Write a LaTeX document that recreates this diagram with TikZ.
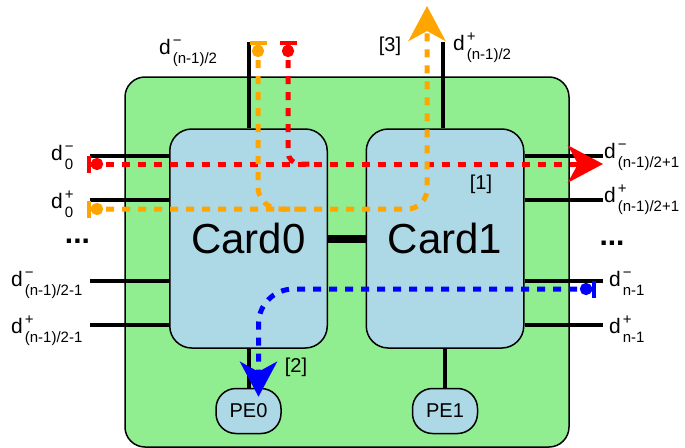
\documentclass[tikz,border=0pt]{standalone}
\usepackage{fontspec}
\setmainfont{Liberation Sans}
\usetikzlibrary{arrows.meta,positioning}

\definecolor{boardgreen}{RGB}{144,238,144}
\definecolor{cardblue}{RGB}{173,216,230}
\definecolor{pathorange}{RGB}{255,165,0}

\newcommand{\subsz}{\fontsize{15}{15}\selectfont}
\newcommand{\dport}[2]{d\kern2pt\rlap{\raisebox{9pt}{\subsz #1}}\raisebox{-9.5pt}{\subsz #2}}

\begin{document}
\begin{tikzpicture}[x=1pt, y=-1pt,
    board/.style={draw, line width=1.5pt, fill=boardgreen, rounded corners=20pt,
        minimum width=444pt, minimum height=370pt},
    card/.style={draw, line width=1.5pt, fill=cardblue, rounded corners=22pt,
        minimum width=157.5pt, minimum height=219pt, font=\fontsize{42}{42}\selectfont},
    pe/.style={draw, line width=1.5pt, fill=cardblue, rounded corners=20pt,
        minimum width=65pt, minimum height=45pt, font=\fontsize{20}{20}\selectfont},
    port/.style={line width=4pt},
    dlab/.style={inner sep=0pt, anchor=base west, font=\fontsize{21}{21}\selectfont},
    tag/.style={inner sep=0pt, font=\fontsize{20}{20}\selectfont},
    dots/.style={inner sep=0pt, anchor=base, font=\fontsize{30}{30}\selectfont\bfseries},
    flow/.style={line width=5pt, dash pattern=on 8pt off 8pt},
    src/.style={{Bar[width=17pt,line width=4pt,sep=-3pt]Circle[length=12pt,width=12pt]}-},
    srcdst/.style={{Bar[width=17pt,line width=4pt,sep=-3pt]Circle[length=12pt,width=12pt]}-{Stealth[length=35pt,width=37pt,inset=10pt]}},
]
\useasboundingbox (0,0) rectangle (685,447);

    % Board
    \node[board] (board) at (347,262) {};

    % Port ends
    \coordinate (l0m) at (90,156);
    \coordinate (l0p) at (90,200);
    \coordinate (lhm) at (90,281);
    \coordinate (lhp) at (90,325);
    \coordinate (r0m) at (603,156);
    \coordinate (r0p) at (603,200);
    \coordinate (rnm) at (603,281);
    \coordinate (rnp) at (603,325);
    \coordinate (t0) at (248.5,42);
    \coordinate (t1) at (443,42);

    % Cards
    \node[card] (card0) at (248.5,238.5) {Card0};
    \node[card, right=37.5pt of card0] (card1) {Card1};
    \node[pe, below=39pt of card0] (pe0) {PE0};
    \node[pe, below=39pt of card1] (pe1) {PE1};

    % Links
    \draw[line width=8pt] (card0.east) -- (card1.west);
    \draw[port] (l0m) -- (l0m -| card0.west);
    \draw[port] (l0p) -- (l0p -| card0.west);
    \draw[port] (lhm) -- (lhm -| card0.west);
    \draw[port] (lhp) -- (lhp -| card0.west);
    \draw[port] (r0m) -- (r0m -| card1.east);
    \draw[port] (r0p) -- (r0p -| card1.east);
    \draw[port] (rnm) -- (rnm -| card1.east);
    \draw[port] (rnp) -- (rnp -| card1.east);
    \draw[port] (t0) -- (t0 |- card0.north);
    \draw[port] (t1) -- (t1 |- card1.north);
    \draw[port] (card0.south) -- (pe0.north);
    \draw[port] (card1.south) -- (pe1.north);

    % Port labels
    \node[dlab] (lab0m) at (51,160) {\dport{−}{0}};
    \node[dlab] (lab0p) at (51,208) {\dport{+}{0}};
    \node[dlab] (labhm) at (11,286) {\dport{−}{(n-1)/2-1}};
    \node[dlab] (labhp) at (11,333) {\dport{+}{(n-1)/2-1}};
    \node[dlab] (labr0m) at (604,158) {\dport{−}{(n-1)/2+1}};
    \node[dlab] (labr0p) at (604,202) {\dport{+}{(n-1)/2+1}};
    \node[dlab] (labrnm) at (609,286) {\dport{−}{n-1}};
    \node[dlab] (labrnp) at (609,333) {\dport{+}{n-1}};
    \node[dlab] (labt0) at (159,54) {\dport{−}{(n-1)/2}};
    \node[dlab] (labt1) at (453,50) {\dport{+}{(n-1)/2}};
    \node[dots] (dotsl) at (77.5,243) {...};
    \node[dots] (dotsr) at (612,245) {...};

    % Flow [1]
    \coordinate (f1a) at (90,164);
    \coordinate (f1b) at (603,164);
    \coordinate (f1c) at (288,44);
    \coordinate (f1d) at (315,164);
    \draw[flow, red, srcdst] (f1a) -- (f1b);
    \draw[flow, red, src, rounded corners=12pt] (f1c) |- (f1d);
    \node[tag] (tag1) at (481,184) {[1]};

    % Flow [3]
    \coordinate (f3a) at (90,209);
    \coordinate (f3b) at (427,6);
    \coordinate (f3c) at (258,44);
    \coordinate (f3d) at (300,209);
    \draw[flow, pathorange, srcdst, rounded corners=20pt] (f3a) -| (f3b);
    \draw[flow, pathorange, src, rounded corners=22pt] (f3c) |- (f3d);
    \node[tag] (tag3) at (390,46) {[3]};

    % Flow [2]
    \coordinate (f2a) at (593,289);
    \draw[flow, blue, srcdst, rounded corners=35pt]
        (f2a) -| ([xshift=10pt, yshift=-9pt]pe0.north);
    \node[tag] (tag2) at (296,367) {[2]};

\end{tikzpicture}
\end{document}
